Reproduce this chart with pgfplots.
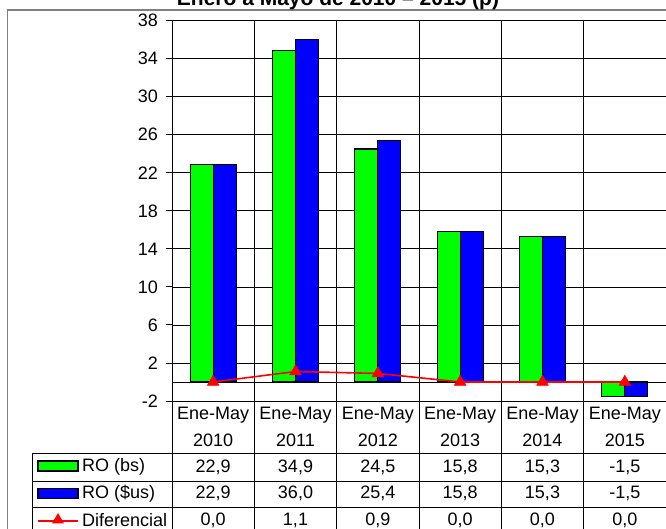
\documentclass[border=0pt]{standalone}
\usepackage{pgfplots}
\pgfplotsset{compat=1.18}
\usepackage{pgfplotstable}
\usepackage{fontspec}
\setmainfont{Liberation Sans}
\usetikzlibrary{shapes.geometric}
\definecolor{cgreen}{RGB}{0,255,0}
\definecolor{cblue}{RGB}{0,0,255}
\definecolor{cred}{RGB}{255,0,0}
\definecolor{cframe}{RGB}{128,128,128}

\pgfplotstableread{
x bs us dif
0 22.9 22.9 0.0
1 34.9 36.0 1.1
2 24.5 25.4 0.9
3 15.8 15.8 0.0
4 15.3 15.3 0.0
5 -1.5 -1.5 0.0
}\datatab

\newcommand{\tf}{\fontsize{18bp}{21bp}\selectfont}
\newcommand{\cell}[3]{\node[font=\tf] at ({41.17+82.33*#1},#2) {#3};}

\begin{document}
\begin{tikzpicture}[x=1bp,y=1bp]
\path[use as bounding box] (-172,-128) rectangle (494,401);
\clip (-172,-128) rectangle (494,401);
\begin{axis}[
  at={(0,0)}, anchor=south west,
  width=494bp, height=380.3bp, scale only axis,
  xmin=-0.5, xmax=5.5, ymin=-2, ymax=38,
  ytick={-2,2,...,38},
  xtick={0.5,1.5,...,4.5}, xticklabels={},
  xmajorgrids, ymajorgrids,
  major grid style={black, line width=0.8bp},
  separate axis lines,
  axis y line*=left,
  axis x line*=bottom,
  x axis line style={draw=none},
  xtick style={draw=none},
  y axis line style={black, line width=0.9bp, -},
  ytick style={black, line width=0.9bp},
  tick align=outside,
  major tick length=6bp,
  yticklabel style={font=\tf, anchor=east, inner sep=0pt, xshift=-8bp},
  /pgf/number format/assume math mode=true,
  extra y ticks={0}, extra y tick labels={},
  extra y tick style={ymajorgrids=true, major tick length=0pt},
  ybar=0pt, bar width=23bp,
  clip=false,
]
\addplot[fill=cgreen, draw=black, line width=1.2bp] table[x=x,y=bs]{\datatab};
\addplot[fill=cblue, draw=black, line width=1.2bp] table[x=x,y=us]{\datatab};
\addplot[sharp plot, cred, line width=1.6bp, mark=triangle*, mark size=6.8pt,
  mark options={fill=cred, draw=cred, line width=0.5bp}] table[x=x,y=dif]{\datatab};
\end{axis}
% data table
\begin{scope}[line width=0.8bp, black]
\foreach \k in {0,...,6} {\draw ({82.33*\k},0) -- ({82.33*\k},-140);}
\foreach \yy in {-52,-80,-106,-133} {\draw (-140,\yy) -- (500,\yy);}
\draw (-140,-52) -- (-140,-140);
\end{scope}
\foreach \k/\yr in {0/2010,1/2011,2/2012,3/2013,4/2014,5/2015} {
  \cell{\k}{-14}{Ene-May}
  \cell{\k}{-39}{\yr}
}
\cell{0}{-66}{22,9}\cell{1}{-66}{34,9}\cell{2}{-66}{24,5}\cell{3}{-66}{15,8}\cell{4}{-66}{15,3}\cell{5}{-66}{-1,5}
\cell{0}{-92.5}{22,9}\cell{1}{-92.5}{36,0}\cell{2}{-92.5}{25,4}\cell{3}{-92.5}{15,8}\cell{4}{-92.5}{15,3}\cell{5}{-92.5}{-1,5}
\cell{0}{-119.5}{0,0}\cell{1}{-119.5}{1,1}\cell{2}{-119.5}{0,9}\cell{3}{-119.5}{0,0}\cell{4}{-119.5}{0,0}\cell{5}{-119.5}{0,0}
% legend keys
\draw[fill=cgreen, draw=black, line width=1.2bp] (-134,-60) rectangle (-94,-70);
\draw[fill=cblue, draw=black, line width=1.2bp] (-134,-87.5) rectangle (-94,-97.5);
\draw[cred, line width=1.6bp] (-134,-120) -- (-94,-120);
\node[regular polygon, regular polygon sides=3, fill=cred, inner sep=0pt, minimum size=14bp] at (-114,-119) {};
\node[font=\tf, anchor=west, inner sep=0pt] at (-90,-66) {RO (bs)};
\node[font=\tf, anchor=west, inner sep=0pt] at (-90,-92.5) {RO (\$us)};
\node[font=\tf, anchor=west, inner sep=0pt] at (-90,-119.5) {Diferencial};
% outer frame
\draw[cframe, line width=1.5bp] (-164.5,-140) -- (-164.5,391) -- (500,391);
% title
\node[font=\fontsize{21bp}{24bp}\selectfont\bfseries, anchor=base] at (166,395) {Enero a Mayo de 2010 – 2015 (p)};
\end{tikzpicture}
\end{document}
